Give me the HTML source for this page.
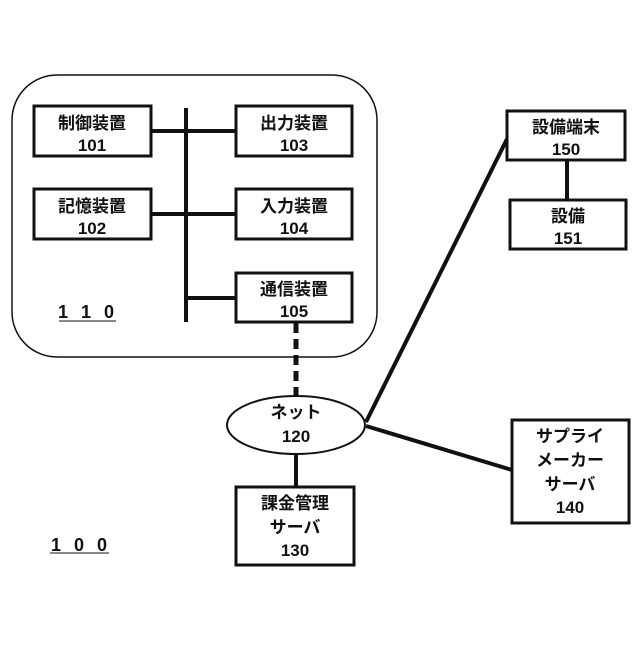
<!DOCTYPE html>
<html><head><meta charset="utf-8"><style>
body{margin:0;background:#fff;}
svg text{font-family:"Liberation Sans","Noto Sans CJK JP",sans-serif;font-weight:bold;fill:#111;text-anchor:middle;}
</style></head><body>
<svg width="640" height="640" viewBox="0 0 640 640" xmlns="http://www.w3.org/2000/svg">
<rect x="12" y="75" width="365" height="282" rx="45" fill="none" stroke="#111" stroke-width="1.5"/>
<g stroke="#111" stroke-width="4" fill="none">
<line x1="186" y1="108" x2="186" y2="322"/>
<line x1="151" y1="131" x2="236" y2="131"/>
<line x1="151" y1="214" x2="236" y2="214"/>
<line x1="186" y1="298" x2="236" y2="298"/>
<line x1="296" y1="323" x2="296" y2="396" stroke-dasharray="10,6" stroke-width="5"/>
<line x1="296" y1="454" x2="296" y2="487"/>
<line x1="366" y1="426" x2="512" y2="470"/>
<line x1="366" y1="422" x2="508" y2="137"/>
<line x1="567" y1="160" x2="567" y2="200"/>
</g>
<g stroke="#111" stroke-width="3" fill="#fff">
<rect x="34" y="106" width="117" height="50"/>
<rect x="34" y="189" width="117" height="50"/>
<rect x="236" y="106" width="116" height="50"/>
<rect x="236" y="189" width="116" height="50"/>
<rect x="236" y="273" width="116" height="49"/>
<rect x="236" y="487" width="118" height="78"/>
<rect x="512" y="420" width="117" height="103"/>
<rect x="507" y="111" width="118" height="49"/>
<rect x="510" y="200" width="116" height="49"/>
</g>
<ellipse cx="296" cy="425" rx="69" ry="29" fill="#fff" stroke="#111" stroke-width="2"/>
<g font-size="17">
<text x="92" y="129">制御装置</text><text x="92" y="151">101</text>
<text x="92" y="212">記憶装置</text><text x="92" y="234">102</text>
<text x="294" y="129">出力装置</text><text x="294" y="151">103</text>
<text x="294" y="212">入力装置</text><text x="294" y="234">104</text>
<text x="294" y="295">通信装置</text><text x="294" y="317">105</text>
<text x="296" y="418">ネット</text><text x="296" y="442">120</text>
<text x="295" y="509">課金管理</text><text x="295" y="533">サーバ</text><text x="295" y="556">130</text>
<text x="570" y="442">サプライ</text><text x="570" y="466">メーカー</text><text x="570" y="490">サーバ</text><text x="570" y="513">140</text>
<text x="566" y="133">設備端末</text><text x="566" y="155">150</text>
<text x="568" y="222">設備</text><text x="568" y="244">151</text>
</g>
<g font-size="18" style="font-family:'Liberation Mono',monospace;font-weight:normal">
<text x="88" y="318" letter-spacing="4">1 1 0</text>
<text x="81" y="551" letter-spacing="4">1 0 0</text>
</g>
<line x1="59" y1="321" x2="116" y2="321" stroke="#111" stroke-width="1"/>
<line x1="50" y1="553" x2="109" y2="553" stroke="#111" stroke-width="1"/>
</svg>
</body></html>
